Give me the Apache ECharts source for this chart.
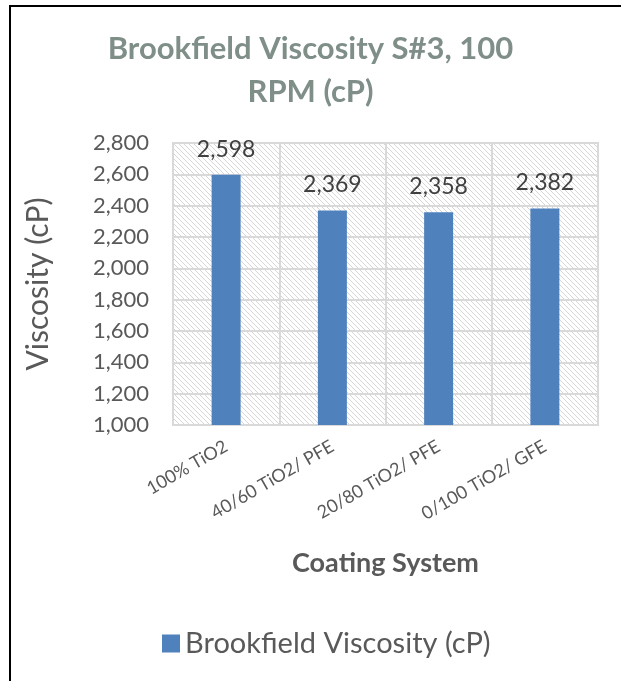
<!DOCTYPE html>
<html>
<head>
<meta charset="utf-8">
<script src="https://cdn.jsdelivr.net/npm/echarts@6/dist/echarts.min.js"></script>
<style>
  html, body { margin: 0; padding: 0; background: #fff; }
  #chart { width: 621px; height: 681px; }
</style>
</head>
<body>
<div id="chart"></div>
<script>
// data
const categories = ['100% TiO2', '40/60 TiO2/ PFE', '20/80 TiO2/ PFE', '0/100 TiO2/ GFE'];
const viscosity = [2598, 2369, 2358, 2382];
const yTicks = [1000, 1200, 1400, 1600, 1800, 2000, 2200, 2400, 2600, 2800];

const FONT = 'Lato, "Open Sans", sans-serif';

// light diagonal hatch for the plot area
function hatch() {
    const c = document.createElement('canvas');
    c.width = 5;
    c.height = 5;
    const ctx = c.getContext('2d');
    ctx.fillStyle = '#d6d6d6';
    for (let i = 0; i < 5; i++) {
        ctx.fillRect(i, i, 1, 1);
    }
    return c;
}

const chart = echarts.init(document.getElementById('chart'));

const option = {
    animation: false,
    title: {
        text: 'Brookfield Viscosity S#3, 100\nRPM (cP)',
        left: 'center',
        top: 22,
        textStyle: {
            fontFamily: FONT,
            fontSize: 31,
            fontWeight: 'bold',
            color: '#7f8f88',
            lineHeight: 43
        }
    },
    graphic: [{
        type: 'rect',
        shape: { x: 10, y: 6, width: 700, height: 800 },
        style: { fill: 'none', stroke: '#000', lineWidth: 2 },
        silent: true
    }],
    grid: {
        left: 173,
        right: 23,
        top: 143,
        bottom: 256,
        show: true,
        backgroundColor: { image: hatch(), repeat: 'repeat' },
        borderColor: '#d9d9d9',
        borderWidth: 2
    },
    legend: {
        top: 624,
        left: 157,
        itemWidth: 18,
        itemHeight: 18,
        itemGap: 8,
        icon: 'rect',
        textStyle: { fontFamily: FONT, fontSize: 29, color: '#595959' },
        data: ['Brookfield Viscosity (cP)']
    },
    xAxis: {
        type: 'category',
        data: categories,
        name: 'Coating System',
        nameLocation: 'middle',
        nameGap: 125,
        nameTextStyle: { fontFamily: FONT, fontSize: 27, fontWeight: 'bold', color: '#595959' },
        axisLine: { lineStyle: { color: '#d9d9d9', width: 2 } },
        axisTick: { show: false },
        axisLabel: {
            rotate: 30,
            margin: 20,
            fontFamily: FONT,
            fontSize: 18,
            color: '#595959'
        },
        splitLine: { show: true, lineStyle: { color: '#d9d9d9', width: 2 } }
    },
    yAxis: {
        type: 'value',
        min: yTicks[0],
        max: yTicks[yTicks.length - 1],
        interval: 200,
        name: 'Viscosity (cP)',
        nameLocation: 'middle',
        nameGap: 120,
        nameTextStyle: { fontFamily: FONT, fontSize: 30, color: '#595959' },
        axisLine: { show: false },
        axisTick: { show: false },
        axisLabel: {
            margin: 24,
            fontFamily: FONT,
            fontSize: 22,
            color: '#595959',
            formatter: v => v.toLocaleString('en-US')
        },
        splitLine: { lineStyle: { color: '#d9d9d9', width: 2 } }
    },
    series: [{
        name: 'Brookfield Viscosity (cP)',
        type: 'bar',
        data: viscosity,
        barWidth: 29,
        itemStyle: { color: '#4f81bd' },
        label: {
            show: true,
            position: 'top',
            distance: 14,
            fontFamily: FONT,
            fontSize: 23,
            color: '#404040',
            formatter: p => p.value.toLocaleString('en-US')
        }
    }]
};

chart.setOption(option);
</script>
</body>
</html>
